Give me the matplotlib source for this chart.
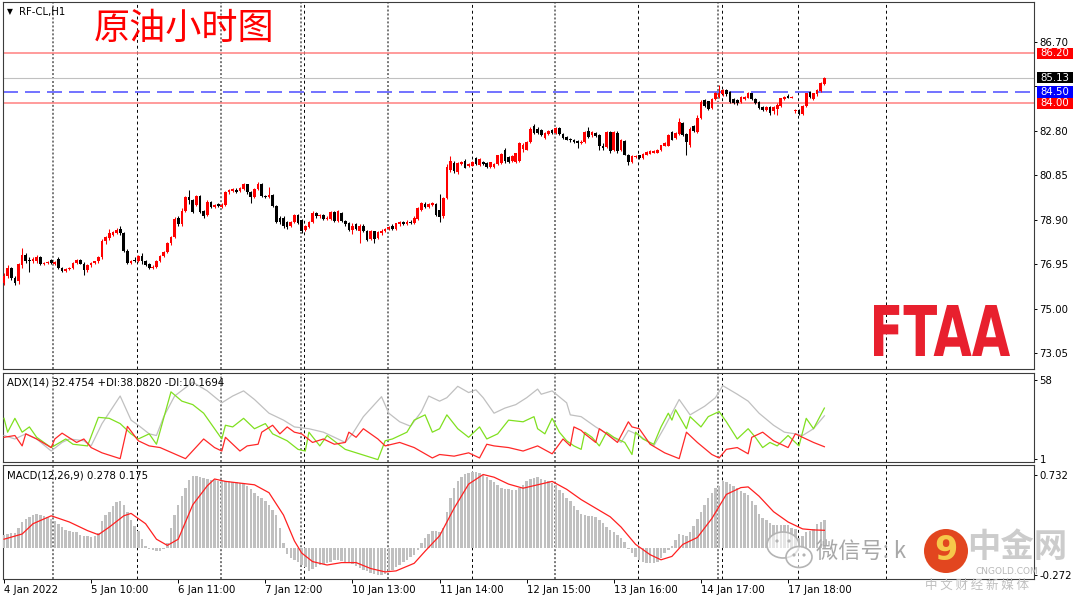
import numpy as np
import matplotlib
matplotlib.use("Agg")
import matplotlib.pyplot as plt
from matplotlib.patches import Circle, Ellipse, PathPatch, Rectangle
from matplotlib.textpath import TextPath
from matplotlib.font_manager import FontProperties
from matplotlib.transforms import Affine2D

plt.rcParams['font.family'] = ['DejaVu Sans', 'Noto Sans CJK SC']

# ---- hourly OHLC, RF-CL H1 ----
opens = [
    76.15, 76.45, 76.78, 76.35, 76.20, 76.90, 77.35, 77.15, 77.10, 77.10,
    77.25, 76.95, 77.00, 77.12, 76.98, 77.20, 76.80, 76.65, 76.75, 76.78,
    77.00, 77.15, 76.98, 76.70, 76.90, 77.00, 77.08, 77.25, 77.95, 78.10,
    78.25, 78.32, 78.50, 78.30, 77.55, 77.00, 77.15, 77.08, 77.30, 77.08,
    76.95, 76.80, 76.85, 77.10, 77.30, 77.50, 77.88, 78.15, 78.98, 78.70,
    79.30, 79.88, 79.75, 79.55, 79.95, 79.30, 79.10, 79.68, 79.45, 79.60,
    79.45, 79.55, 80.10, 80.15, 80.22, 80.15, 80.25, 80.45, 80.10, 79.90,
    80.25, 80.45, 79.95, 79.90, 80.00, 79.50, 79.00, 79.00, 78.80, 78.65,
    78.80, 79.10, 78.90, 78.45, 78.60, 78.80, 79.20, 79.05, 79.10, 78.95,
    78.95, 79.25, 78.85, 79.20, 78.85, 78.78, 78.45, 78.70, 78.40, 78.65,
    78.40, 78.05, 78.40, 78.10, 78.30, 78.40, 78.50, 78.65, 78.50, 78.70,
    78.80, 78.72, 78.82, 78.75, 78.95, 79.35, 79.60, 79.45, 79.55, 79.60,
    79.35, 79.05, 79.85, 81.10, 81.40, 80.98, 81.35, 81.50, 81.25, 81.28,
    81.60, 81.30, 81.45, 81.38, 81.22, 81.20, 81.35, 81.40, 81.95, 81.65,
    81.48, 81.45, 81.50, 82.00, 81.98, 82.32, 83.00, 82.90, 82.82, 82.50,
    82.68, 82.85, 82.70, 82.92, 82.68, 82.52, 82.45, 82.40, 82.35, 82.28,
    82.32, 82.80, 82.60, 82.70, 82.60, 82.15, 82.10, 82.75, 81.95, 82.72,
    81.95, 82.35, 81.75, 81.45, 81.65, 81.72, 81.60, 81.75, 81.80, 81.85,
    81.85, 81.95, 82.15, 82.15, 82.75, 82.50, 82.65, 83.15, 82.65, 82.20,
    83.00, 82.75, 83.35, 84.15, 84.10, 83.80, 84.20, 84.30, 84.40, 84.60,
    84.50, 84.20, 84.15, 84.05, 84.18, 84.25, 84.45, 84.20, 84.05, 83.85,
    83.72, 83.85, 83.65, 83.75, 83.90, 84.20, 84.35, 84.25, 83.65, 83.70,
    83.55, 83.90, 84.50, 84.20, 84.40, 84.55, 84.85]
highs = [
    76.55, 76.90, 76.85, 76.45, 77.00, 77.65, 77.45, 77.25, 77.28, 77.35,
    77.30, 77.05, 77.08, 77.18, 77.10, 77.25, 76.85, 76.80, 76.85, 77.05,
    77.18, 77.20, 77.05, 76.95, 77.05, 77.10, 77.30, 78.05, 78.20, 78.50,
    78.42, 78.55, 78.62, 78.35, 77.62, 77.15, 77.25, 77.35, 77.45, 77.15,
    77.00, 76.92, 77.15, 77.35, 77.55, 77.92, 78.20, 79.02, 79.05, 79.40,
    79.95, 80.20, 79.80, 80.00, 80.00, 79.35, 79.75, 79.72, 79.60, 79.65,
    79.62, 80.15, 80.25, 80.30, 80.28, 80.35, 80.50, 80.48, 80.15, 80.30,
    80.57, 80.50, 80.00, 80.35, 80.05, 79.55, 79.08, 79.05, 78.85, 78.85,
    79.15, 79.15, 78.95, 78.68, 78.85, 79.28, 79.25, 79.15, 79.15, 79.05,
    79.30, 79.30, 79.35, 79.25, 78.90, 78.82, 78.78, 78.78, 78.70, 78.70,
    78.45, 78.45, 78.42, 78.40, 78.48, 78.55, 78.65, 78.70, 78.78, 78.85,
    78.85, 78.88, 78.88, 79.05, 79.45, 79.70, 79.68, 79.65, 79.70, 79.65,
    80.05, 79.90, 81.35, 81.70, 81.48, 81.42, 81.50, 81.55, 81.38, 81.48,
    81.65, 81.62, 81.50, 81.42, 81.45, 81.40, 81.75, 81.82, 82.05, 81.70,
    81.72, 81.85, 82.30, 82.25, 82.35, 82.95, 83.10, 82.95, 82.88, 82.75,
    82.85, 82.90, 82.95, 82.96, 82.72, 82.58, 82.50, 82.45, 82.40, 82.38,
    82.80, 82.95, 82.80, 82.76, 82.65, 82.25, 82.80, 82.80, 82.80, 82.78,
    82.45, 82.40, 81.80, 81.72, 81.75, 81.76, 81.82, 81.90, 81.95, 81.95,
    82.00, 82.20, 82.30, 82.65, 82.80, 82.75, 83.35, 83.20, 82.70, 82.95,
    83.05, 83.50, 84.15, 84.20, 84.12, 84.25, 84.50, 84.82, 84.65, 84.65,
    84.55, 84.25, 84.18, 84.32, 84.35, 84.50, 84.48, 84.25, 84.10, 83.90,
    83.90, 83.88, 83.88, 84.00, 84.25, 84.35, 84.40, 84.33, 83.75, 83.75,
    83.92, 84.48, 84.55, 84.48, 84.65, 84.95, 85.15]
lows = [
    76.05, 76.35, 76.25, 76.05, 76.10, 76.80, 77.00, 76.60, 77.00, 77.00,
    76.90, 76.90, 76.95, 76.95, 76.92, 76.75, 76.60, 76.60, 76.70, 76.75,
    76.95, 76.95, 76.48, 76.60, 76.85, 76.95, 77.02, 77.20, 77.85, 78.00,
    78.20, 78.28, 78.22, 77.50, 76.95, 76.95, 77.05, 77.05, 76.95, 76.88,
    76.75, 76.75, 76.80, 77.05, 77.25, 77.45, 77.80, 78.10, 78.65, 78.65,
    79.25, 79.60, 79.20, 79.50, 79.22, 79.00, 79.05, 79.40, 79.42, 79.45,
    79.42, 79.50, 80.05, 80.10, 80.08, 80.12, 80.20, 80.05, 79.65, 79.85,
    80.20, 79.90, 79.85, 79.85, 79.45, 78.75, 78.72, 78.55, 78.50, 78.60,
    78.75, 78.70, 78.30, 78.40, 78.55, 78.75, 79.00, 79.00, 78.90, 78.90,
    78.90, 78.80, 78.80, 78.80, 78.65, 78.40, 78.28, 78.45, 77.90, 78.35,
    77.95, 78.00, 77.90, 78.05, 78.25, 78.35, 78.45, 78.45, 78.45, 78.65,
    78.68, 78.68, 78.70, 78.70, 78.90, 79.30, 79.40, 79.40, 79.50, 79.05,
    78.80, 79.00, 79.80, 81.00, 80.95, 80.92, 81.30, 81.15, 81.20, 81.25,
    81.30, 81.25, 81.30, 81.15, 81.18, 81.15, 81.30, 81.35, 81.40, 81.40,
    81.45, 81.40, 81.45, 81.88, 81.95, 82.28, 82.68, 82.68, 82.58, 82.45,
    82.62, 82.68, 82.65, 82.60, 82.45, 82.38, 82.33, 82.26, 82.05, 82.22,
    82.28, 82.50, 82.55, 82.52, 81.95, 81.98, 82.05, 81.85, 81.90, 81.85,
    81.90, 81.72, 81.30, 81.40, 81.60, 81.58, 81.55, 81.72, 81.78, 81.82,
    81.82, 81.92, 82.12, 82.12, 82.38, 82.45, 82.60, 82.58, 81.75, 82.10,
    82.75, 82.70, 83.30, 83.85, 83.70, 83.75, 84.15, 84.25, 84.35, 84.35,
    84.00, 83.98, 83.95, 84.00, 84.15, 84.22, 84.15, 83.98, 83.75, 83.68,
    83.68, 83.50, 83.55, 83.50, 83.85, 84.15, 84.22, 84.22, 83.60, 83.50,
    83.50, 83.85, 84.25, 84.15, 84.35, 84.50, 84.80]
closes = [
    76.45, 76.78, 76.35, 76.15, 76.95, 77.35, 77.10, 77.10, 77.18, 77.25,
    76.95, 77.00, 77.02, 77.00, 77.05, 76.80, 76.65, 76.75, 76.78, 77.00,
    77.12, 76.98, 76.70, 76.90, 77.00, 77.08, 77.25, 77.98, 78.15, 78.30,
    78.37, 78.45, 78.30, 77.55, 77.00, 77.10, 77.10, 77.30, 77.08, 76.92,
    76.80, 76.85, 77.10, 77.30, 77.50, 77.88, 78.15, 78.95, 78.70, 79.30,
    79.90, 79.75, 79.25, 79.95, 79.25, 79.05, 79.70, 79.45, 79.55, 79.50,
    79.55, 80.10, 80.20, 80.25, 80.12, 80.30, 80.45, 80.12, 79.90, 80.25,
    80.48, 79.95, 79.90, 80.00, 79.50, 78.80, 78.80, 78.65, 78.60, 78.80,
    79.10, 78.75, 78.40, 78.62, 78.80, 79.22, 79.05, 79.10, 78.95, 79.00,
    79.25, 78.85, 79.30, 78.85, 78.70, 78.45, 78.62, 78.50, 78.62, 78.40,
    78.00, 78.40, 78.05, 78.35, 78.42, 78.50, 78.60, 78.50, 78.75, 78.80,
    78.72, 78.82, 78.75, 79.00, 79.40, 79.62, 79.45, 79.60, 79.62, 79.10,
    79.02, 79.85, 81.20, 81.50, 81.05, 81.38, 81.45, 81.18, 81.35, 81.42,
    81.35, 81.58, 81.36, 81.20, 81.42, 81.36, 81.72, 81.78, 81.48, 81.45,
    81.68, 81.82, 82.25, 82.18, 82.32, 82.90, 82.70, 82.70, 82.62, 82.70,
    82.80, 82.70, 82.92, 82.65, 82.50, 82.42, 82.38, 82.30, 82.25, 82.33,
    82.75, 82.55, 82.75, 82.58, 82.12, 82.03, 82.75, 81.92, 82.75, 81.90,
    82.38, 81.75, 81.42, 81.68, 81.70, 81.62, 81.80, 81.88, 81.92, 81.90,
    81.98, 82.18, 82.28, 82.62, 82.42, 82.72, 83.20, 82.62, 82.30, 82.90,
    82.78, 83.35, 84.05, 83.90, 83.75, 84.20, 84.45, 84.45, 84.60, 84.40,
    84.05, 84.02, 84.00, 84.28, 84.30, 84.45, 84.18, 84.02, 83.80, 83.72,
    83.85, 83.60, 83.85, 83.95, 84.22, 84.30, 84.25, 84.30, 83.70, 83.55,
    83.90, 84.45, 84.30, 84.45, 84.60, 84.90, 85.13]

# ---- ADX(14): vertices (bar index, value) ----
adx_bar = [0, 3, 6, 9, 13, 16, 18, 22, 24, 27, 32, 35, 37, 40, 42, 44, 47, 52, 56, 60,
           63, 66, 69, 73, 77, 80, 84, 88, 92, 94, 96, 99, 104, 106, 109, 112, 115, 117, 120, 122,
           125, 128, 130, 132, 135, 138, 141, 144, 147, 148, 151, 155, 156, 159, 163, 167, 170, 172, 175, 179,
           182, 186, 189, 193, 196, 198, 202, 205, 208, 212, 215, 218, 220, 223, 226]
adx_val = [18.3, 15.8, 19.5, 15.8, 7.1, 13.3, 15.8, 14.5, 10.8, 26.9, 46.8, 29.4, 25.7, 19.5, 18.3, 31.9, 46.8, 56.8, 50.5, 41.9,
           46.8, 50.5, 44.3, 34.4, 29.4, 24.5, 23.2, 20.7, 15.8, 13.3, 19.5, 31.9, 46.3, 34.4, 28.2, 25.0, 35.6, 46.8, 43.1, 45.6,
           53.8, 49.3, 51.3, 45.6, 34.4, 38.1, 40.6, 45.6, 51.8, 48.1, 50.5, 41.9, 33.2, 31.9, 24.5, 18.3, 13.3, 22.0, 18.3, 10.8,
           24.5, 44.3, 33.2, 39.4, 45.6, 54.3, 48.1, 43.1, 34.4, 25.7, 20.7, 19.5, 18.3, 23.2, 32.5]
pdi_bar = [0, 1, 3, 5, 7, 9, 13, 17, 19, 23, 26, 29, 32, 35, 37, 40, 42, 46, 49, 52,
           55, 60, 61, 63, 66, 69, 72, 74, 78, 81, 83, 84, 87, 89, 94, 103, 105, 107, 111, 113,
           116, 118, 120, 122, 125, 128, 131, 133, 136, 139, 143, 146, 147, 149, 151, 153, 155, 157, 159, 160,
           162, 164, 166, 168, 171, 173, 174, 176, 179, 181, 183, 184, 185, 188, 189, 192, 194, 197, 199, 202,
           205, 207, 209, 211, 213, 216, 219, 221, 223, 226]
pdi_val = [30.7, 20.7, 30.7, 20.7, 24.5, 17.0, 9.6, 15.8, 12.0, 10.8, 31.4, 30.7, 26.9, 19.5, 15.8, 19.5, 12.0, 49.8, 43.1, 40.6,
           34.4, 15.8, 25.7, 24.5, 30.7, 23.2, 26.9, 19.5, 14.5, 8.3, 7.1, 20.7, 10.8, 18.3, 8.3, 0.9, 14.5, 15.8, 20.7, 29.4,
           33.2, 20.7, 23.2, 33.2, 23.2, 17.0, 24.5, 15.8, 19.5, 29.4, 28.2, 31.9, 23.2, 19.5, 30.7, 20.7, 14.5, 10.8, 8.3, 20.7,
           17.0, 10.8, 20.7, 17.0, 13.3, 4.6, 20.7, 15.8, 12.0, 24.5, 34.4, 29.4, 36.9, 23.2, 31.9, 24.5, 31.9, 35.6, 28.2, 15.8,
           23.2, 17.0, 9.6, 13.3, 10.8, 18.3, 10.8, 30.7, 23.2, 38.1]
mdi_bar = [0, 3, 5, 6, 9, 13, 14, 16, 20, 22, 24, 27, 32, 34, 37, 40, 43, 50, 55, 58,
           60, 61, 65, 67, 70, 71, 74, 76, 78, 80, 82, 85, 88, 91, 94, 95, 97, 99, 101, 103,
           105, 109, 113, 118, 120, 124, 128, 131, 133, 135, 139, 143, 147, 151, 154, 156, 157, 159, 160, 163,
           164, 166, 169, 172, 173, 175, 178, 182, 186, 188, 191, 195, 197, 199, 202, 205, 206, 209, 212, 216,
           218, 220, 223, 226]
mdi_val = [17.0, 18.3, 10.8, 19.5, 15.8, 9.6, 15.8, 20.0, 13.3, 15.8, 9.6, 5.8, 1.6, 24.9, 14.5, 10.8, 9.6, 1.6, 15.8, 9.6,
           7.1, 17.0, 7.1, 10.8, 12.0, 20.7, 25.7, 19.5, 24.5, 20.7, 19.5, 13.3, 15.8, 12.0, 13.3, 20.7, 17.0, 23.2, 19.5, 15.8,
           10.8, 13.3, 9.6, 2.1, 4.6, 3.4, 5.8, 2.1, 12.0, 10.8, 9.6, 7.1, 10.8, 5.1, 15.8, 10.8, 24.5, 22.0, 19.5, 13.3,
           23.2, 19.5, 13.3, 28.2, 24.5, 23.2, 12.0, 5.8, 1.6, 20.7, 13.3, 4.6, 2.1, 8.3, 9.6, 5.1, 17.0, 20.7, 14.5, 9.6,
           19.5, 17.0, 13.3, 10.2]

# ---- MACD(12,26,9): main line (histogram, one per bar) and signal vertices ----
macd_hist = [
    0.13, 0.14, 0.15, 0.15, 0.20, 0.26, 0.29, 0.31, 0.33, 0.34,
    0.33, 0.32, 0.31, 0.29, 0.27, 0.24, 0.21, 0.18, 0.165, 0.16,
    0.155, 0.13, 0.12, 0.115, 0.11, 0.12, 0.15, 0.27, 0.33, 0.36,
    0.42, 0.46, 0.465, 0.43, 0.36, 0.28, 0.22, 0.17, 0.09, 0.02,
    -0.015, -0.025, -0.03, -0.03, -0.01, 0.05, 0.20, 0.33, 0.43, 0.52,
    0.60, 0.68, 0.72, 0.715, 0.71, 0.70, 0.688, 0.68, 0.675, 0.67,
    0.67, 0.668, 0.665, 0.66, 0.655, 0.65, 0.645, 0.62, 0.585, 0.55,
    0.52, 0.50, 0.47, 0.43, 0.38, 0.33, 0.20, 0.05, -0.06, -0.10,
    -0.12, -0.14, -0.17, -0.19, -0.23, -0.21, -0.19, -0.175, -0.165, -0.15,
    -0.14, -0.125, -0.12, -0.13, -0.14, -0.15, -0.16, -0.18, -0.20, -0.22,
    -0.235, -0.25, -0.26, -0.275, -0.27, -0.26, -0.24, -0.22, -0.19, -0.17,
    -0.14, -0.12, -0.09, -0.07, -0.02, 0.05, 0.10, 0.14, 0.17, 0.165,
    0.155, 0.20, 0.36, 0.50, 0.60, 0.67, 0.71, 0.74, 0.75, 0.757,
    0.757, 0.75, 0.73, 0.705, 0.68, 0.654, 0.63, 0.60, 0.59, 0.585,
    0.575, 0.58, 0.60, 0.63, 0.67, 0.69, 0.70, 0.705, 0.69, 0.68,
    0.67, 0.65, 0.63, 0.58, 0.55, 0.50, 0.465, 0.42, 0.38, 0.34,
    0.33, 0.32, 0.315, 0.31, 0.28, 0.25, 0.21, 0.18, 0.155, 0.13,
    0.10, 0.06, -0.01, -0.05, -0.09, -0.12, -0.14, -0.15, -0.155, -0.15,
    -0.14, -0.10, -0.05, -0.02, 0.02, 0.08, 0.14, 0.13, 0.12, 0.155,
    0.22, 0.29, 0.36, 0.43, 0.50, 0.55, 0.60, 0.62, 0.664, 0.654,
    0.64, 0.62, 0.60, 0.57, 0.55, 0.53, 0.47, 0.43, 0.34, 0.30,
    0.275, 0.25, 0.224, 0.224, 0.224, 0.224, 0.224, 0.20, 0.189, 0.103,
    0.12, 0.155, 0.17, 0.19, 0.24, 0.26, 0.278]
sig_bar = [0, 5, 8, 13, 18, 23, 26, 29, 33, 35, 39, 42, 45, 48, 52, 56, 58, 61, 65, 69,
           73, 77, 80, 82, 85, 89, 93, 97, 101, 105, 108, 113, 116, 120, 124, 128, 132, 135, 139, 143,
           147, 151, 155, 159, 163, 167, 170, 174, 178, 181, 184, 187, 191, 195, 199, 203, 205, 208, 212, 216,
           220, 223, 226]
sig_val = [0.086, 0.138, 0.241, 0.32, 0.258, 0.172, 0.131, 0.207, 0.32, 0.344, 0.241, 0.086, 0.024, 0.086, 0.43, 0.62, 0.688, 0.664, 0.647, 0.63,
           0.551, 0.327, 0.069, -0.052, -0.138, -0.172, -0.148, -0.148, -0.207, -0.241, -0.231, -0.155, -0.034, 0.12, 0.396, 0.637, 0.733, 0.706, 0.637, 0.596,
           0.63, 0.664, 0.585, 0.482, 0.396, 0.31, 0.207, 0.034, -0.069, -0.12, -0.086, 0.034, 0.103, 0.293, 0.534, 0.602, 0.609, 0.516, 0.361, 0.258,
           0.189, 0.179, 0.175]

# ---- time axis labels (every 24 bars) ----
date_bars = [0, 24, 48, 72, 96, 120, 144, 168, 192, 216]
date_labels = ['4 Jan 2022', '5 Jan 10:00', '6 Jan 11:00', '7 Jan 12:00', '10 Jan 13:00',
               '11 Jan 14:00', '12 Jan 15:00', '13 Jan 16:00', '14 Jan 17:00', '17 Jan 18:00']
grid_bars = [13.6, 59.7, 81.7, 105.8, 151.8, 196.8]
sep_bars = [36.7, 82.6, 128.8, 174.7, 197.7, 218.8, 242.9]

# ---- price levels ----
price_ticks = [86.70, 84.75, 82.80, 80.85, 78.90, 76.95, 75.00, 73.05]
level_vals = [86.20, 85.13, 84.50, 84.00]
level_box = ['#ff0000', '#000000', '#0000ff', '#ff0000']

W, H = 1080, 599
fig = plt.figure(figsize=(W / 100, H / 100), dpi=100)
fig.patch.set_facecolor('white')


def rect(x0, y0, x1, y1):
    return [x0 / W, 1 - y1 / H, (x1 - x0) / W, (y1 - y0) / H]


ax1 = fig.add_axes(rect(3, 2, 1034, 368.5))
ax2 = fig.add_axes(rect(3, 372.6, 1034, 461.7))
ax3 = fig.add_axes(rect(3, 464.8, 1034, 579))

px_bar = 3.63
xlo, xhi = (3 - 4) / px_bar, (1034 - 4) / px_bar

for ax in (ax1, ax2, ax3):
    ax.set_xlim(xlo, xhi)
    ax.yaxis.tick_right()
    ax.tick_params(axis='y', right=True, left=False, length=2.5, width=0.7,
                   pad=1.5, labelsize=7.3, colors='black')
    ax.tick_params(axis='x', bottom=False, labelbottom=False)
    for s in ax.spines.values():
        s.set_color('#3c3c3c')
        s.set_linewidth(0.8)
    for b in grid_bars:
        ax.axvline(b, color='#6e6e6e', lw=1.3, dashes=(1.1, 1.1), zorder=1)
    for b in sep_bars:
        ax.axvline(b, color='black', lw=0.7, dashes=(3, 3), zorder=1)

# main price panel
ax1.set_ylim(72.38, 88.45)
ax1.set_yticks(price_ticks)
# the 84.75 label sits under the level boxes, so only its tick shows
ax1.set_yticklabels(['' if abs(v - 84.75) < 1e-6 else f'{v:.2f}' for v in price_ticks])

ax1.axhline(86.20, color='#ff8080', lw=1.1, zorder=2)
ax1.axhline(84.00, color='#ff8080', lw=1.1, zorder=2)
ax1.axhline(85.13, color='#c0c0c0', lw=0.8, zorder=2)
ax1.axhline(84.50, color='#5a5aff', lw=1.2, dashes=(9, 4.2), zorder=2)

o, h, l, c = (np.array(a) for a in (opens, highs, lows, closes))
xb = np.arange(len(c))
col = np.where(c >= o, '#ff0000', '#000000')
ax1.vlines(xb, l, h, colors=col, lw=0.75, zorder=3)
ax1.bar(xb, np.maximum(np.abs(c - o), 0.03), bottom=np.minimum(o, c),
        width=0.74, color=col, lw=0, zorder=4)

ytr = ax1.get_yaxis_transform()
for v, fc in zip(level_vals, level_box):
    ax1.add_patch(Rectangle((1.0026, v - 0.25), 0.0352, 0.50, transform=ytr,
                            fc=fc, ec='none', clip_on=False, zorder=6))
    ax1.text(1.0026 + 0.0176, v, f'{v:.2f}', transform=ytr, ha='center', va='center',
             fontsize=7.3, color='white', clip_on=False, zorder=7)

# ADX panel
ax2.set_ylim(-0.6, 63.7)
ax2.set_yticks([58, 1])
ax2.set_yticklabels(['58', '1'])
ax2.plot(adx_bar, adx_val, color='#c0c0c0', lw=0.9, zorder=3)
ax2.plot(pdi_bar, pdi_val, color='#80e020', lw=0.9, zorder=4)
ax2.plot(mdi_bar, mdi_val, color='#ff2828', lw=0.9, zorder=5)

# MACD panel
ax3.set_ylim(-0.312, 0.83)
ax3.set_yticks([0.732, -0.272])
ax3.set_yticklabels(['0.732', '-0.272'])
ax3.bar(np.arange(len(macd_hist)), macd_hist, width=0.68, color='#c0c0c0', lw=0, zorder=3)
ax3.plot(sig_bar, sig_val, color='#ff2020', lw=0.9, zorder=4)
ax3.set_xticks(date_bars)
ax3.set_xticklabels(date_labels, ha='left')
ax3.tick_params(axis='x', bottom=True, labelbottom=True, length=3, width=0.7,
                pad=1.5, labelsize=7.3)

# overlay in pixel coordinates for headers, logo and watermark
ov = fig.add_axes([0, 0, 1, 1], zorder=10)
ov.set_xlim(0, W)
ov.set_ylim(H, 0)
ov.axis('off')

ov.text(10, 12, '\u25bc', fontsize=5.5, ha='center', va='center')
ov.text(19, 12.5, 'RF-CL,H1', fontsize=7.3, va='center')
ov.text(94, 29, '原油小时图', fontsize=26, color='#ff0000', va='center',
        family=['Noto Sans CJK SC'])
ov.text(7, 382.5, 'ADX(14) 32.4754 +DI:38.0820 -DI:10.1694', fontsize=7.3, va='center')
ov.text(7, 476, 'MACD(12,26,9) 0.278 0.175', fontsize=7.3, va='center')

# FTAA logo
fp = FontProperties(family='DejaVu Sans', weight='bold')
tp = TextPath((0, 0), 'FTAA', size=1, prop=fp)
bb = tp.get_extents()
tr = Affine2D().translate(-bb.x0, -bb.y0).scale(136 / bb.width, -51 / bb.height).translate(874, 356)
ov.add_patch(PathPatch(tr.transform_path(tp), fc='#e8202e', ec='none'))

# watermark
for cx, cy, w, hh in [(783, 545, 32, 26), (799, 557, 26, 21)]:
    ov.add_patch(Ellipse((cx, cy), w, hh, fc=(1, 1, 1, 0.6), ec='#b4b4b4', lw=1.2))
for ex, ey in [(777, 541), (789, 541), (794, 555), (804, 555)]:
    ov.add_patch(Circle((ex, ey), 1.6, fc='#b4b4b4', ec='none'))
ov.text(816, 551, '微信号: k', fontsize=16, color='#a8a8a8', va='center',
        family=['Noto Sans CJK SC'])
ov.add_patch(Circle((946, 551), 22, fc='#e2461f', ec='none'))
ov.text(946, 551, '9', fontsize=24, fontweight='bold', color='#f6c84a', ha='center', va='center')
ov.text(967, 547, '中金网', fontsize=24, fontweight='bold', color='#c4c4c4', va='center',
        family=['Noto Sans CJK SC'], alpha=0.85)
ov.text(975, 571, 'CNGOLD.COM', fontsize=6.5, color='#b8b8b8', va='center')
ov.text(925, 585, '中 文 财 经 新 媒 体', fontsize=9, color='#c0c0c0', va='center',
        family=['Noto Sans CJK SC'])

fig.savefig('out.png', dpi=100)
